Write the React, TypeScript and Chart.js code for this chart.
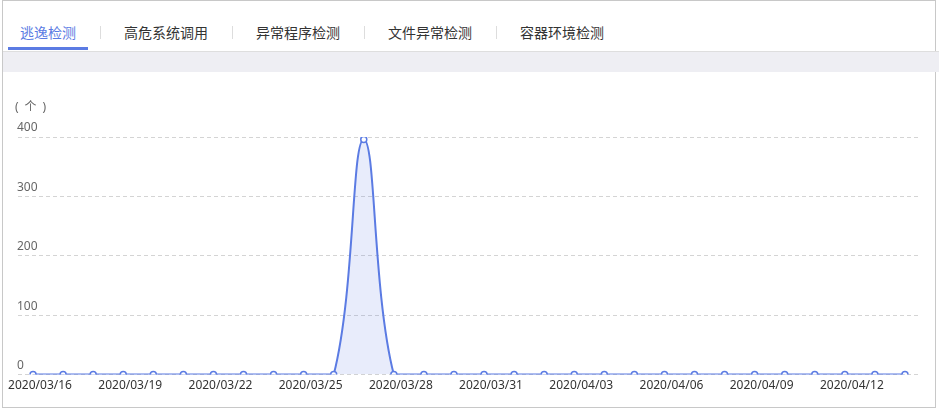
import React, { useEffect, useRef } from 'react';
import { Chart, registerables } from 'chart.js';

Chart.register(...registerables);

const dates = [
  '2020/03/16', '2020/03/17', '2020/03/18', '2020/03/19', '2020/03/20', '2020/03/21',
  '2020/03/22', '2020/03/23', '2020/03/24', '2020/03/25', '2020/03/26', '2020/03/27',
  '2020/03/28', '2020/03/29', '2020/03/30', '2020/03/31', '2020/04/01', '2020/04/02',
  '2020/04/03', '2020/04/04', '2020/04/05', '2020/04/06', '2020/04/07', '2020/04/08',
  '2020/04/09', '2020/04/10', '2020/04/11', '2020/04/12', '2020/04/13', '2020/04/14',
];
const escapeCounts = [
  0, 0, 0, 0, 0, 0,
  0, 0, 0, 0, 0, 396,
  0, 0, 0, 0, 0, 0,
  0, 0, 0, 0, 0, 0,
  0, 0, 0, 0, 0, 0,
];
const yMin = 0;
const yMax = 400;
const yStep = 100;
const xLabelEvery = 3;
const tabs = ['逃逸检测', '高危系统调用', '异常程序检测', '文件异常检测', '容器环境检测'];
const activeTab = 0;
const unitLabel = '(\u2002个\u2002)';

const BLUE = '#5b7be3';
const FONT = '"Noto Sans", "Noto Sans CJK SC", sans-serif';
const CJK = '"Noto Sans CJK SC", "Noto Sans", sans-serif';

export default function App() {
  const ref = useRef<HTMLCanvasElement | null>(null);

  useEffect(() => {
    document.body.style.margin = '0';
    const canvas = ref.current;
    if (!canvas) return;
    const unitPlugin = {
      id: 'unitLabel',
      afterDraw(chart: any) {
        const ctx = chart.ctx;
        ctx.save();
        ctx.font = `12px ${FONT}`;
        ctx.fillStyle = '#666';
        ctx.textAlign = 'left';
        ctx.textBaseline = 'middle';
        ctx.fillText(unitLabel, 15, 108);
        ctx.restore();
      },
    };
    const chart = new Chart(canvas, {
      type: 'line',
      data: {
        labels: dates,
        datasets: [
          {
            data: escapeCounts,
            borderColor: BLUE,
            borderWidth: 2,
            backgroundColor: 'rgba(91,123,227,0.14)',
            fill: 'origin',
            tension: 0.4,
            pointRadius: 3,
            pointBorderWidth: 1.5,
            pointBackgroundColor: '#fff',
            pointBorderColor: BLUE,
          },
        ],
      },
      options: {
        responsive: false,
        animation: false,
        layout: { padding: { left: 18, right: 19, top: 137, bottom: 14 } },
        plugins: { legend: { display: false }, tooltip: { enabled: false } },
        scales: {
          x: {
            offset: true,
            afterFit: (scale: any) => {
              scale.paddingLeft = 0;
              scale.paddingRight = 0;
            },
            grid: { display: false, drawTicks: false },
            border: { display: false },
            ticks: {
              autoSkip: false,
              maxRotation: 0,
              minRotation: 0,
              padding: 4,
              labelOffset: 7,
              color: '#333',
              font: { size: 12, family: FONT },
              callback: (_v: any, i: number) => (i % xLabelEvery === 0 ? dates[i] : ''),
            },
          },
          y: {
            min: yMin,
            max: yMax,
            afterFit: (scale: any) => {
              scale.width = 0;
            },
            grid: { color: '#d4d4d4', drawTicks: false, lineWidth: 1 },
            border: { display: false, dash: [4, 3] },
            ticks: {
              stepSize: yStep,
              mirror: true,
              padding: -1,
              labelOffset: -9,
              color: '#666',
              font: { size: 12, family: FONT },
            },
          },
        },
      },
      plugins: [unitPlugin],
    });
    return () => chart.destroy();
  }, []);

  return (
    <div style={{ position: 'relative', width: 939, height: 411, background: '#fff', overflow: 'hidden' }}>
      <div
        style={{
          position: 'absolute', left: 2, top: 0, width: 932, height: 406,
          border: '1px solid #c8c8c8',
        }}
      />
      <div style={{ position: 'absolute', left: 3, top: 51, width: 936, height: 1, background: '#dedede' }} />
      <div style={{ position: 'absolute', left: 3, top: 52, width: 936, height: 20, background: '#eeeef3' }} />
      <div style={{ position: 'absolute', left: 8, top: 18, display: 'flex', alignItems: 'flex-start' }}>
        {tabs.map((t, i) => (
          <React.Fragment key={t}>
            {i > 0 && (
              <div style={{ width: 1, height: 13, marginTop: 8, marginLeft: 12, marginRight: 11, background: '#dddddd' }} />
            )}
            <div
              style={{
                padding: '0 12px',
                height: 29,
                lineHeight: '29px',
                fontSize: 14,
                fontFamily: CJK,
                color: i === activeTab ? BLUE : '#333',
                borderBottom: i === activeTab ? `3px solid ${BLUE}` : '3px solid transparent',
                whiteSpace: 'nowrap',
              }}
            >
              {t}
            </div>
          </React.Fragment>
        ))}
      </div>
      <canvas ref={ref} width={939} height={411} style={{ position: 'absolute', left: 0, top: 0, display: 'block' }} />
    </div>
  );
}
